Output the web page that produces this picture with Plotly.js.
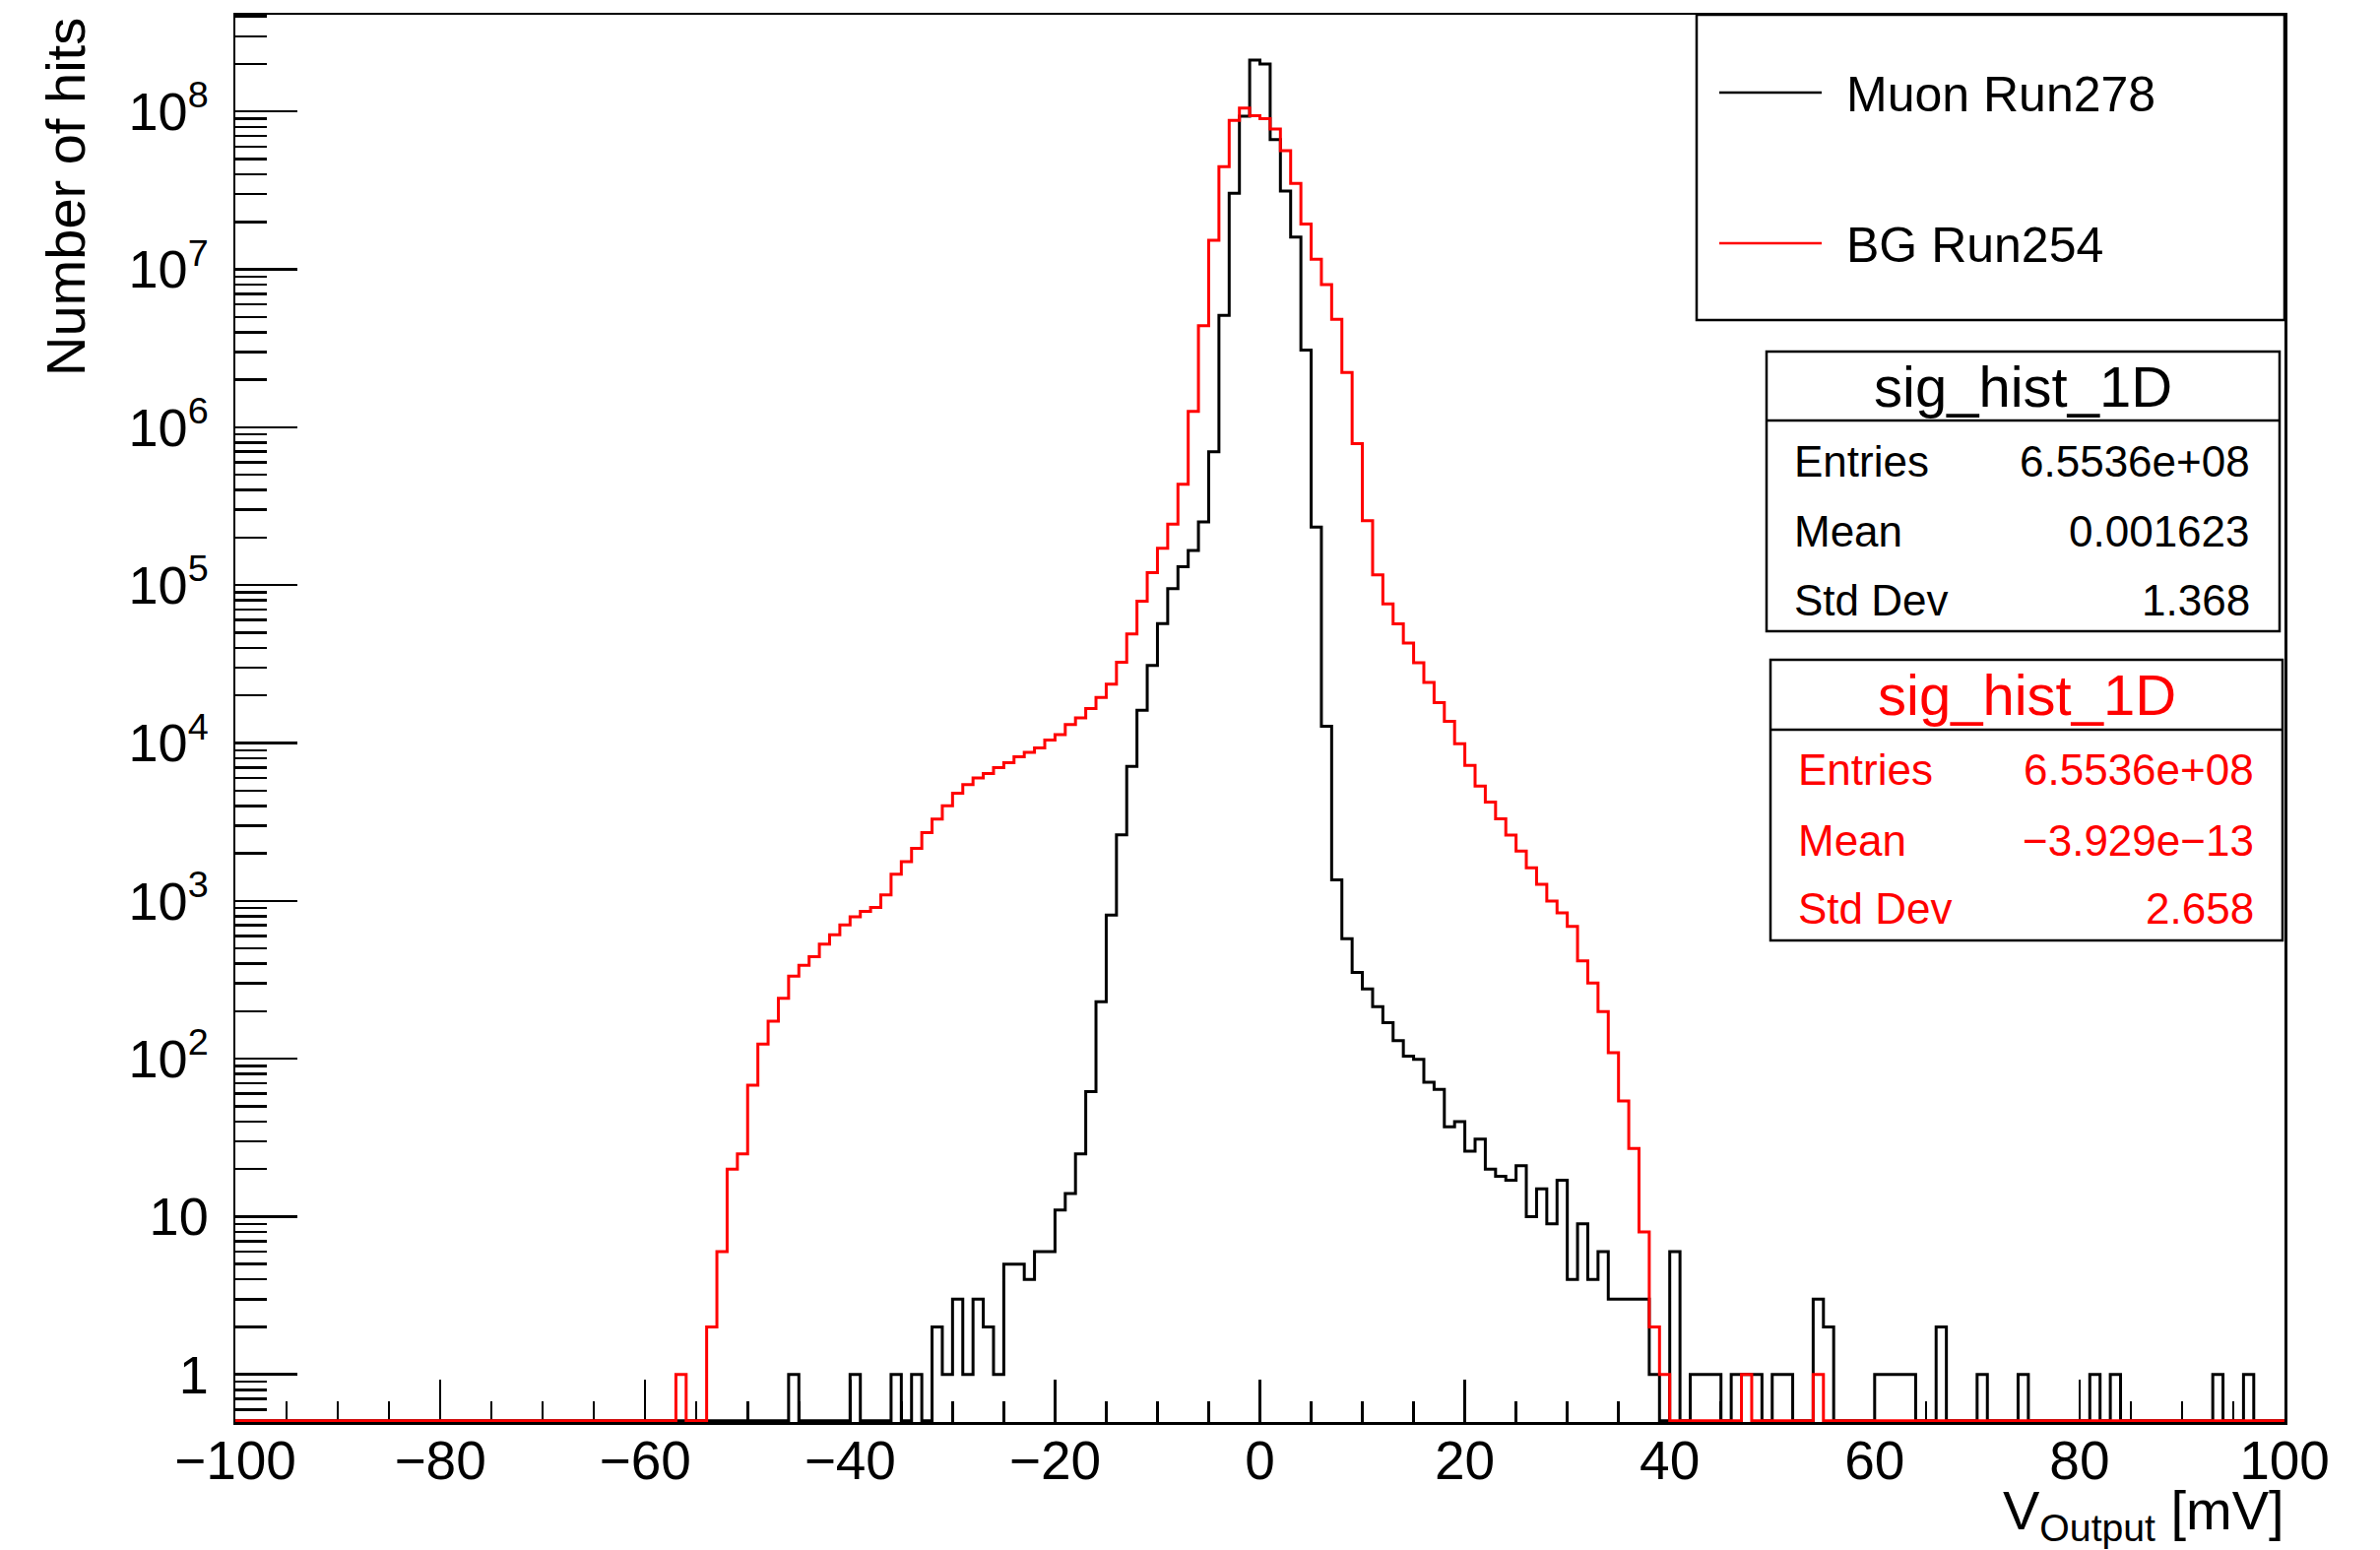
<!DOCTYPE html>
<html>
<head>
<meta charset="utf-8">
<script src="https://cdn.plot.ly/plotly-3.0.1.min.js"></script>
<style>html,body{margin:0;padding:0;background:#fff;}#chart{width:2417px;height:1574px;}</style>
</head>
<body>
<div id="chart"></div>
<script>
// ---- Data: counts per 1 mV bin, bins from -100 mV to +100 mV (index 0 = [-100,-99)) ----
const binLow = -100;
const binWidth = 1;

const muonCounts = [
  0,0,0,0,0,0,0,0,0,0,
  0,0,0,0,0,0,0,0,0,0,
  0,0,0,0,0,0,0,0,0,0,
  0,0,0,0,0,0,0,0,0,0,
  0,0,0,0,0,0,0,0,0,0,
  0,0,0,0,1,0,0,0,0,0,
  1,0,0,0,1,0,1,0,2,1,
  3,1,3,2,1,5,5,4,6,6,
  11,14,25,62,230,812,2620,7110,16100,31000,
  57000,95000,131000,166000,251000,700000,5120000,30400000,93500000,212000000,
  200000000,66500000,31400000,16000000,3080000,233000,12770,1356,575,352,
  277,214,169,130,104,99,71,64,37,40,
  26,31,20,18,17,21,10,15,9,17,
  4,9,4,6,3,3,3,3,1,0,
  6,0,1,1,1,0,1,1,1,0,
  1,1,0,0,3,2,0,0,0,0,
  1,1,1,1,0,0,2,0,0,0,
  1,0,0,0,1,0,0,0,0,0,
  0,1,0,1,0,0,0,0,0,0,
  0,0,0,1,0,0,1,0,0,0
];

const bgCounts = [
  0,0,0,0,0,0,0,0,0,0,
  0,0,0,0,0,0,0,0,0,0,
  0,0,0,0,0,0,0,0,0,0,
  0,0,0,0,0,0,0,0,0,0,
  0,0,0,1,0,0,2,6,20,25,
  68,124,173,241,333,390,443,532,609,703,
  792,859,907,1089,1476,1774,2148,2706,3296,4000,
  4800,5456,6010,6400,6980,7500,8190,8730,9300,10450,
  11300,13100,14400,16500,19400,23600,32500,49000,79000,120000,
  171000,243000,436000,1260000,4390000,15300000,44800000,88000000,105000000,94000000,
  90000000,77500000,56500000,35000000,19400000,11600000,8000000,4830000,2220000,787000,
  256000,116000,76000,56800,43000,32200,24200,18000,13700,9880,
  7210,5340,4220,3310,2610,2070,1620,1274,998,838,
  690,416,302,199,109,54,27,8,2,1,
  0,0,0,0,0,0,0,1,0,0,
  0,0,0,0,1,0,0,0,0,0,
  0,0,0,0,0,0,0,0,0,0,
  0,0,0,0,0,0,0,0,0,0,
  0,0,0,0,0,0,0,0,0,0,
  0,0,0,0,0,0,0,0,0,0
];

const seriesNames = ["Muon Run278", "BG Run254"];
const statTitle = "sig_hist_1D";
const statLabels = ["Entries", "Mean", "Std Dev"];
const muonStats = ["6.5536e+08", "0.001623", "1.368"];
const bgStats = ["6.5536e+08", "\u22123.929e\u221213", "2.658"];

const xTickVals = [-100,-80,-60,-40,-20,0,20,40,60,80,100];
const xTickText = ["\u2212100","\u221280","\u221260","\u221240","\u221220","0","20","40","60","80","100"];
const yTickVals = [1,10,100,1000,1e4,1e5,1e6,1e7,1e8];
const yTickText = ["1","10","10<sup>2</sup>","10<sup>3</sup>","10<sup>4</sup>","10<sup>5</sup>","10<sup>6</sup>","10<sup>7</sup>","10<sup>8</sup>"];

// ---- Layout geometry ----
const W = 2417, H = 1574;
const M = {l: 239, r: 97, t: 15, b: 130};
const PW = W - M.l - M.r, PH = H - M.t - M.b;
const yLogRange = [Math.log10(0.5), Math.log10(4.1e8)];
const zeroLevel = Math.pow(10, yLogRange[0] + 0.008); // empty bins drawn on the frame bottom, like ROOT

function px(X){ return (X - M.l) / PW; }
function py(Y){ return (M.t + PH - Y) / PH; }

function stepTrace(counts, color, name){
  const xs = [], ys = [];
  for (let i = 0; i < counts.length; i++){
    xs.push(binLow + i*binWidth);
    ys.push(counts[i] > 0 ? counts[i] : zeroLevel);
  }
  xs.push(binLow + counts.length*binWidth);
  ys.push(counts[counts.length-1] > 0 ? counts[counts.length-1] : zeroLevel);
  return {x: xs, y: ys, type: 'scatter', mode: 'lines', name: name,
          line: {shape: 'hv', color: color, width: 3}, showlegend: false, hoverinfo: 'skip'};
}

const xMinor = [];
for (let v = -100; v <= 100; v += 5){ if (v % 20 !== 0) xMinor.push(v); }
const yMinor = [];
for (let k = -1; k <= 8; k++){
  for (let d = 2; d <= 9; d++){
    const v = d * Math.pow(10, k);
    if (Math.log10(v) >= yLogRange[0] && Math.log10(v) <= yLogRange[1]) yMinor.push(v);
  }
}

const FONT = "Liberation Sans, Arial, Helvetica, sans-serif";

const shapes = [];
const annotations = [];
function rect(x0,y0,x1,y1,w){ shapes.push({type:'rect', xref:'paper', yref:'paper', x0:px(x0), x1:px(x1), y0:py(y1), y1:py(y0), line:{color:'#000', width:w}, fillcolor:'rgba(255,255,255,1)', layer:'above'}); }
function hline(x0,x1,y,color,w){ shapes.push({type:'line', xref:'paper', yref:'paper', x0:px(x0), x1:px(x1), y0:py(y), y1:py(y), line:{color:color, width:w}, layer:'above'}); }
function text(t,X,Y,xa,size,color){ annotations.push({text:t, xref:'paper', yref:'paper', x:px(X), y:py(Y), xanchor:xa, yanchor:'middle', showarrow:false, font:{family:FONT, size:size, color:color}}); }

// Legend box
rect(1723, 15, 2320, 325, 2.5);
hline(1746, 1850, 94, '#000', 2.5);
hline(1746, 1850, 247, '#ff0000', 2.5);
text(seriesNames[0], 1873, 96, 'left', 50, '#000');
text(seriesNames[1], 1873, 249, 'left', 50, '#000');

// Stat box (muon)
rect(1794, 357, 2315, 641, 2.5);
hline(1794, 2315, 427, '#000', 2.5);
text(statTitle, 2054, 392, 'center', 58, '#000');
const rowsA = [468, 539, 609];
for (let i = 0; i < 3; i++){
  text(statLabels[i], 1820, rowsA[i], 'left', 44, '#000');
  text(muonStats[i], 2287, rowsA[i], 'right', 44, '#000');
}
// Stat box (background)
rect(1798, 670, 2318, 955, 2.5);
hline(1798, 2318, 741, '#000', 2.5);
text(statTitle, 2058, 705, 'center', 58, '#ff0000');
const rowsB = [781, 853, 923];
for (let i = 0; i < 3; i++){
  text(statLabels[i], 1824, rowsB[i], 'left', 44, '#ff0000');
  text(bgStats[i], 2291, rowsB[i], 'right', 44, '#ff0000');
}

// Axis titles (ROOT style: aligned to the axis end)
annotations.push({text:'Number of hits', xref:'paper', yref:'paper', x:px(66), y:py(16), xanchor:'center', yanchor:'top', textangle:-90, showarrow:false, font:{family:FONT, size:56, color:'#000'}});
annotations.push({text:'V<sub>Output</sub> [mV]', xref:'paper', yref:'paper', x:px(2322), y:py(1500), xanchor:'right', yanchor:'top', showarrow:false, font:{family:FONT, size:56, color:'#000'}});

const data = [stepTrace(muonCounts, '#000000', seriesNames[0]), stepTrace(bgCounts, '#ff0000', seriesNames[1])];

const layout = {
  width: W, height: H,
  margin: M,
  paper_bgcolor: '#fff', plot_bgcolor: '#fff',
  showlegend: false,
  font: {family: FONT, color: '#000'},
  xaxis: {
    range: [-100, 100], type: 'linear',
    showgrid: false, zeroline: false,
    showline: true, linecolor: '#000', linewidth: 2.5, mirror: true,
    ticks: 'inside', ticklen: 43, tickwidth: 2.5, tickcolor: '#000',
    tickmode: 'array', tickvals: xTickVals, ticktext: xTickText,
    tickfont: {family: FONT, size: 55, color: '#000'},
    ticklabelstandoff: -11,
    minor: {tickmode: 'array', tickvals: xMinor, ticks: 'inside', ticklen: 21, tickwidth: 2.5, tickcolor: '#000', showgrid: false},
    layer: 'below traces'
  },
  yaxis: {
    type: 'log', range: yLogRange,
    showgrid: false, zeroline: false,
    showline: true, linecolor: '#000', linewidth: 2.5, mirror: true,
    ticks: 'inside', ticklen: 63, tickwidth: 2.5, tickcolor: '#000',
    tickmode: 'array', tickvals: yTickVals, ticktext: yTickText,
    tickfont: {family: FONT, size: 54, color: '#000'},
    ticklabelstandoff: 14,
    minor: {tickmode: 'array', tickvals: yMinor, ticks: 'inside', ticklen: 32, tickwidth: 2.5, tickcolor: '#000', showgrid: false},
    layer: 'below traces'
  },
  shapes: shapes,
  annotations: annotations
};

Plotly.newPlot('chart', data, layout, {staticPlot: true, displayModeBar: false});
</script>
</body>
</html>
